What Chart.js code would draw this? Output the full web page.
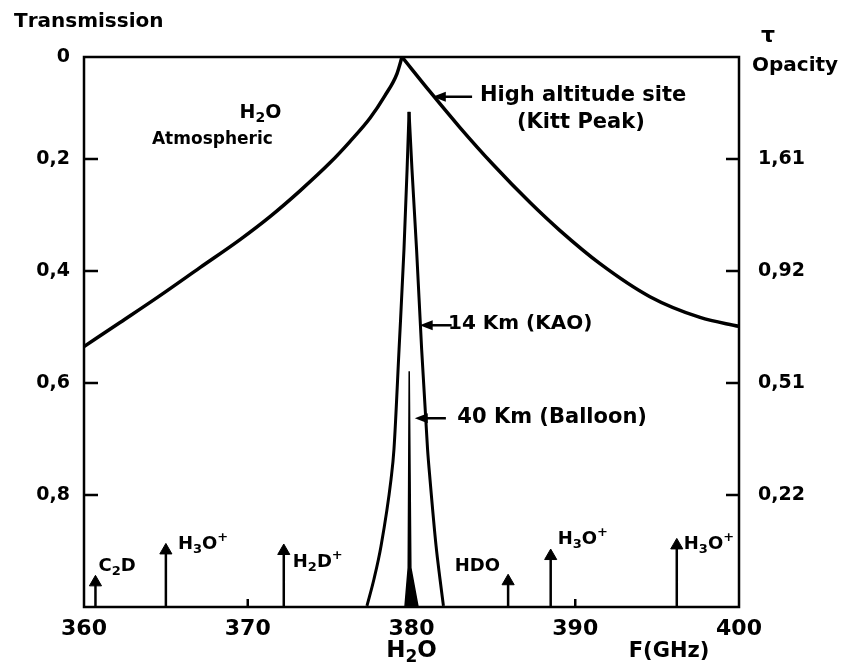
<!DOCTYPE html>
<html>
<head>
<meta charset="utf-8">
<script src="https://cdn.jsdelivr.net/npm/chart.js@4.4.0/dist/chart.umd.min.js"></script>
<style>
  html, body { margin: 0; padding: 0; background: #fff; }
  #wrap { width: 851px; height: 668px; }
</style>
</head>
<body>
<div id="wrap"><canvas id="chart" width="851" height="668"></canvas></div>
<script>
// axes
const freqTicks = [360, 370, 380, 390, 400];
const freqLabels = ['360', '370', '380', '390', '400'];
const transTop = 0.018; // the hand drawn "0" sits a little under zero
const transTicks = [transTop, 0.2, 0.4, 0.6, 0.8];
const transLabels = ['0', '0,2', '0,4', '0,6', '0,8'];
const opacityTicks = [0.2, 0.4, 0.6, 0.8];
const opacityLabels = ['1,61', '0,92', '0,51', '0,22'];

// atmospheric transmission, high altitude site (Kitt Peak)
const atmLeftF = [360, 362.2, 364.64, 367.08, 369.53, 371.36, 373.19, 375.02, 376.24, 377.47, 378.38, 379.11, 379.42];
const atmLeftV = [0.535, 0.492, 0.444, 0.394, 0.344, 0.303, 0.257, 0.207, 0.169, 0.127, 0.087, 0.048, 0.018];
const atmRightF = [379.42, 381.13, 382.96, 384.98, 387.24, 389.07, 391.51, 394.56, 397.62, 400];
const atmRightV = [0.018, 0.080, 0.144, 0.210, 0.278, 0.328, 0.387, 0.446, 0.483, 0.499];

// 14 km (KAO)
const kaoLeftF = [377.28, 377.71, 378.14, 378.75, 378.93, 379.24, 379.54, 379.73, 379.85];
const kaoLeftV = [0.998, 0.950, 0.891, 0.772, 0.718, 0.540, 0.362, 0.219, 0.116];
const kaoRightF = [379.85, 380.03, 380.31, 380.62, 380.98, 381.13, 381.50, 381.74, 381.95];
const kaoRightV = [0.116, 0.219, 0.362, 0.540, 0.718, 0.772, 0.891, 0.950, 0.998];

// 40 km (balloon)
const balloonF = [379.60, 379.80, 379.86, 379.90, 379.96, 380.40];
const balloonV = [1.0, 0.930, 0.579, 0.579, 0.930, 1.0];

// other lines in the band
const lineNames = ['C_2D', 'H_3O^+', 'H_2D^+', 'HDO', 'H_3O^+', 'H_3O^+'];
const lineFreqs = [360.7, 365.0, 372.2, 385.9, 388.5, 396.2];
const lineTips = [0.956, 0.899, 0.900, 0.954, 0.909, 0.890];

const ink = '#000';
const handFont = '"DejaVu Sans", sans-serif';

function curve(fs, vs, width) {
  return {
    data: fs.map((f, i) => ({ x: f, y: vs[i] })),
    borderColor: ink,
    borderWidth: width,
    pointRadius: 0,
    tension: 0,
    cubicInterpolationMode: 'monotone',
    fill: false
  };
}

const stems = lineFreqs.flatMap((f, i) => [{ x: f, y: 1 }, { x: f, y: lineTips[i] }, { x: f, y: null }]);
const heads = lineFreqs.map((f, i) => ({ x: f, y: lineTips[i] }));

// label placement for the hand written notes
const lineLabelDx = [3, 12, 9, -8, 7, 7];
const lineLabelV = [0.927, 0.888, 0.920, 0.927, 0.879, 0.888];
const notes = [
  { text: 'H_2O', f: 369.5, v: 0.118, size: 19 },
  { text: 'Atmospheric', f: 364.15, v: 0.166, size: 17 },
  { text: 'High altitude site', f: 384.18, v: 0.086, size: 21 },
  { text: '(Kitt Peak)', f: 386.44, v: 0.135, size: 21 },
  { text: '14 Km (KAO)', f: 382.23, v: 0.494, size: 20 },
  { text: '40 Km (Balloon)', f: 382.8, v: 0.661, size: 21 }
];
const pointers = [
  { from: [383.7, 0.089], to: [381.3, 0.089] },
  { from: [382.45, 0.497], to: [380.5, 0.497] },
  { from: [382.1, 0.663], to: [380.2, 0.663] }
];

// draws text with _x subscripts and ^x superscripts
function richText(c, str, x, y, size, align) {
  const parts = [];
  for (let i = 0; i < str.length; i++) {
    const ch = str[i];
    if ((ch === '_' || ch === '^') && i + 1 < str.length) {
      parts.push({ t: str[i + 1], k: ch });
      i++;
    } else {
      parts.push({ t: ch, k: '' });
    }
  }
  const fontFor = k => 'bold ' + (k ? Math.round(size * 0.72) : size) + 'px ' + handFont;
  let total = 0;
  parts.forEach(p => { c.font = fontFor(p.k); p.w = c.measureText(p.t).width; total += p.w; });
  let cx = align === 'right' ? x - total : align === 'center' ? x - total / 2 : x;
  c.textBaseline = 'middle';
  c.textAlign = 'left';
  parts.forEach(p => {
    c.font = fontFor(p.k);
    const dy = p.k === '_' ? size * 0.3 : p.k === '^' ? -size * 0.35 : 0;
    c.fillText(p.t, cx, y + dy);
    cx += p.w;
  });
}

const handDrawing = {
  id: 'handDrawing',
  afterDraw(chart) {
    const c = chart.ctx;
    const a = chart.chartArea;
    const xs = chart.scales.x, ys = chart.scales.y;
    c.save();
    c.strokeStyle = ink;
    c.fillStyle = ink;
    c.lineWidth = 2.5;
    c.strokeRect(a.left, a.top, a.right - a.left, a.bottom - a.top);

    // inward tick marks
    c.beginPath();
    transTicks.slice(1).forEach(v => {
      const y = ys.getPixelForValue(v);
      c.moveTo(a.left, y); c.lineTo(a.left + 14, y);
    });
    opacityTicks.forEach(v => {
      const y = chart.scales.y2.getPixelForValue(v);
      c.moveTo(a.right, y); c.lineTo(a.right - 13, y);
    });
    [370, 390].forEach(f => {
      const x = xs.getPixelForValue(f);
      c.moveTo(x, a.bottom); c.lineTo(x, a.bottom - 8);
    });
    c.stroke();

    // pointers to the curves
    c.lineWidth = 2.5;
    pointers.forEach(p => {
      const x1 = xs.getPixelForValue(p.from[0]), y1 = ys.getPixelForValue(p.from[1]);
      const x2 = xs.getPixelForValue(p.to[0]), y2 = ys.getPixelForValue(p.to[1]);
      c.beginPath(); c.moveTo(x1, y1); c.lineTo(x2 + 6, y2); c.stroke();
      c.beginPath(); c.moveTo(x2, y2); c.lineTo(x2 + 13, y2 - 5); c.lineTo(x2 + 13, y2 + 5); c.closePath(); c.fill();
    });

    notes.forEach(n => richText(c, n.text, xs.getPixelForValue(n.f), ys.getPixelForValue(n.v), n.size, 'left'));

    lineNames.forEach((name, i) => {
      const x = xs.getPixelForValue(lineFreqs[i]) + lineLabelDx[i];
      richText(c, name, x, ys.getPixelForValue(lineLabelV[i]), 18, lineLabelDx[i] < 0 ? 'right' : 'left');
    });

    // axis titles
    richText(c, 'Transmission', 14, 22, 20, 'left');
    richText(c, 'τ', 768, 36, 22, 'center');
    richText(c, 'Opacity', 752, 66, 20, 'left');
    richText(c, 'H_2O', xs.getPixelForValue(380), a.bottom + 44, 23, 'center');
    richText(c, 'F(GHz)', 669, a.bottom + 45, 21, 'center');
    c.restore();
  }
};

const ctx = document.getElementById('chart').getContext('2d');
const chart = new Chart(ctx, {
  type: 'line',
  data: {
    datasets: [
      curve(atmLeftF, atmLeftV, 3.5),
      curve(atmRightF, atmRightV, 3.5),
      curve(kaoLeftF, kaoLeftV, 3),
      curve(kaoRightF, kaoRightV, 3),
      {
        data: balloonF.map((f, i) => ({ x: f, y: balloonV[i] })),
        borderColor: ink,
        borderWidth: 1.5,
        backgroundColor: ink,
        pointRadius: 0,
        tension: 0,
        fill: { value: 1 }
      },
      {
        data: stems,
        borderColor: ink,
        borderWidth: 2.5,
        pointRadius: 0,
        spanGaps: false,
        fill: false
      },
      {
        data: heads,
        showLine: false,
        pointStyle: 'triangle',
        pointRadius: 7,
        backgroundColor: ink,
        borderColor: ink,
        borderWidth: 1
      }
    ]
  },
  options: {
    responsive: false,
    animation: false,
    layout: { padding: { top: 57, left: 0, right: 0, bottom: 0 } },
    plugins: { legend: { display: false }, tooltip: { enabled: false } },
    scales: {
      x: {
        type: 'linear', min: 360, max: 400,
        afterBuildTicks: s => { s.ticks = freqTicks.map(v => ({ value: v })); },
        afterFit: s => { s.height = 61; },
        grid: { display: false, drawTicks: false },
        border: { display: false },
        ticks: {
          padding: 9, color: ink, maxRotation: 0, autoSkip: false,
          font: { family: handFont, size: 22, weight: 'bold' },
          callback: (v, i) => freqLabels[i]
        }
      },
      y: {
        type: 'linear', position: 'left', reverse: true, min: transTop, max: 1,
        afterBuildTicks: s => { s.ticks = transTicks.map(v => ({ value: v })); },
        afterFit: s => { s.width = 84; },
        grid: { display: false, drawTicks: false },
        border: { display: false },
        ticks: {
          padding: 14, color: ink, autoSkip: false,
          font: { family: handFont, size: 19, weight: 'bold' },
          callback: (v, i) => transLabels[i]
        }
      },
      y2: {
        type: 'linear', position: 'right', reverse: true, min: transTop, max: 1,
        afterBuildTicks: s => { s.ticks = opacityTicks.map(v => ({ value: v })); },
        afterFit: s => { s.width = 112; },
        grid: { display: false, drawTicks: false },
        border: { display: false },
        ticks: {
          padding: 19, color: ink, autoSkip: false,
          font: { family: handFont, size: 19, weight: 'bold' },
          callback: (v, i) => opacityLabels[i]
        }
      }
    }
  },
  plugins: [handDrawing]
});
</script>
</body>
</html>
